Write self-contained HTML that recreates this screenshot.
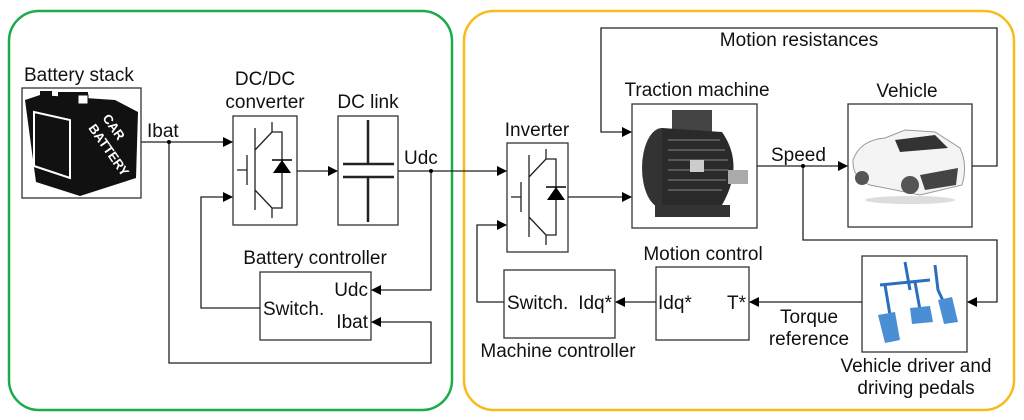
<!DOCTYPE html>
<html><head><meta charset="utf-8"><style>
html,body{margin:0;padding:0;background:#fff}
svg{display:block}
text{font-family:"Liberation Sans",Arial,sans-serif;font-size:19px;fill:#111}
</style></head><body>
<svg width="1024" height="420" viewBox="0 0 1024 420" xmlns="http://www.w3.org/2000/svg">
<defs>
<marker id="a" markerWidth="10" markerHeight="10" refX="9" refY="5" orient="auto" markerUnits="userSpaceOnUse">
<path d="M0,0 L10,5 L0,10 z" fill="#000"/></marker>
</defs>
<rect x="9" y="11" width="443" height="399" rx="30" fill="none" stroke="#1aab4b" stroke-width="2.5"/>
<rect x="464" y="11" width="550" height="399" rx="30" fill="none" stroke="#f6bc1a" stroke-width="2.5"/>

<g fill="none" stroke="#333" stroke-width="1.3">
<rect x="22" y="88" width="119" height="110"/>
<rect x="233" y="116" width="64" height="109"/>
<rect x="338" y="116" width="60" height="109"/>
<rect x="260" y="272" width="111" height="68"/>
<rect x="507" y="143" width="61" height="109"/>
<rect x="632" y="104" width="125" height="124"/>
<rect x="848" y="104" width="124" height="123"/>
<rect x="862" y="256" width="105" height="96"/>
<rect x="656" y="267" width="93" height="73"/>
<rect x="504" y="270" width="111" height="68"/>
</g>

<g fill="none" stroke="#222" stroke-width="1.3">
<path d="M141,142 H232" marker-end="url(#a)"/>
<path d="M297,171 H337" marker-end="url(#a)"/>
<path d="M398,171 H506" marker-end="url(#a)"/>
<path d="M431,171 V290 H372" marker-end="url(#a)"/>
<path d="M169,142 V363 H431 V322 H372" marker-end="url(#a)"/>
<path d="M260,308 H201 V197 H232" marker-end="url(#a)"/>
<path d="M568,197 H631" marker-end="url(#a)"/>
<path d="M757,166 H847" marker-end="url(#a)"/>
<path d="M972,166 H997 V28 H601 V132 H631" marker-end="url(#a)"/>
<path d="M803,166 V240 H997 V302 H968" marker-end="url(#a)"/>
<path d="M862,302 H750" marker-end="url(#a)"/>
<path d="M656,302 H616" marker-end="url(#a)"/>
<path d="M504,302 H477 V225 H506" marker-end="url(#a)"/>
</g>
<circle cx="169" cy="142" r="2" fill="#000"/>
<circle cx="431" cy="171" r="2" fill="#000"/>
<circle cx="803" cy="166" r="2" fill="#000"/>

<g fill="none" stroke="#222" stroke-width="1.3">
<path d="M272,122 V132 H282 V208 H272 V218"/>
<path d="M255,128 V210 M247,155 V185 M237,170 H247 M255,150 L272,132 M255,190 L272,208"/>
<path d="M546,149 V159 H556 V235 H546 V245"/>
<path d="M529,155 V237 M521,182 V212 M511,197 H521 M529,177 L546,159 M529,217 L546,235"/>
<path d="M343,164 H394 M343,177 H394 M368,120 V164 M368,177 V222" stroke-width="2.5"/>
</g>
<path d="M273,173 L291,173 L282,160 z" fill="#000"/>
<path d="M547,200 L565,200 L556,187 z" fill="#000"/>
<path d="M272,160 H292 M546,187 H566" stroke="#000" stroke-width="1.5"/>

<!-- battery -->
<g>
<path d="M25,100 L40,95 L115,100 L138,112 L136,178 L80,196 L36,182 z" fill="#111"/>
<rect x="40" y="91" width="12" height="9" fill="#111"/><rect x="58" y="92" width="30" height="6" fill="#111"/><rect x="78" y="95" width="10" height="9" fill="#fff" stroke="#111"/>
<path d="M34,112 L70,120 L70,178 L34,166 z" fill="none" stroke="#fff" stroke-width="2"/>
<text x="0" y="0" transform="translate(102,118) rotate(55)" style="fill:#fff;font-weight:bold;font-size:13px">CAR</text>
<text x="0" y="0" transform="translate(88,128) rotate(55)" style="fill:#fff;font-weight:bold;font-size:13px">BATTERY</text>
</g>
<!-- motor -->
<g>
<rect x="672" y="110" width="40" height="22" fill="#444"/>
<ellipse cx="662" cy="168" rx="20" ry="40" fill="#333"/>
<path d="M662,128 L722,132 Q745,165 722,205 L662,208 z" fill="#2a2a2a"/>
<g stroke="#666" stroke-width="1.5"><path d="M668,140 H720 M668,150 H725 M668,160 H728 M668,170 H728 M668,180 H726 M668,190 H722"/></g>
<rect x="728" y="170" width="20" height="14" fill="#aaa"/>
<rect x="655" y="205" width="75" height="12" fill="#333"/>
<rect x="690" y="160" width="14" height="12" fill="#ccc"/>
</g>
<!-- car -->
<g>
<path d="M853,160 Q860,140 885,138 L905,130 L935,132 L960,148 Q968,165 962,185 L920,195 L870,185 Q852,178 853,160 z" fill="#f4f4f4" stroke="#999"/>
<path d="M895,140 L935,135 L948,148 L900,152 z" fill="#333"/>
<circle cx="862" cy="178" r="7" fill="#555"/><circle cx="910" cy="185" r="9" fill="#555"/>
<path d="M920,175 L958,168 L956,185 L925,190 z" fill="#444"/>
<ellipse cx="910" cy="200" rx="45" ry="4" fill="#ddd"/>
</g>
<!-- pedals -->
<g stroke="#2a6fbe" stroke-width="3" fill="none">
<path d="M905,262 L910,290 M880,285 L930,280 M885,285 L890,315 M915,282 L920,310 M935,265 L938,290 L945,305"/>
</g>
<g fill="#4a8fd6"><path d="M878,315 L895,312 L900,340 L885,343 z"/><path d="M910,308 L930,306 L933,322 L912,324 z"/><path d="M938,300 L952,297 L958,322 L944,324 z"/></g>

<text x="24" y="81">Battery stack</text>
<text x="147" y="137">Ibat</text>
<text x="265" y="85" text-anchor="middle">DC/DC</text>
<text x="265" y="108" text-anchor="middle">converter</text>
<text x="368" y="108" text-anchor="middle">DC link</text>
<text x="404" y="164">Udc</text>
<text x="315" y="264" text-anchor="middle">Battery controller</text>
<text x="368" y="296" text-anchor="end">Udc</text>
<text x="263" y="315">Switch.</text>
<text x="368" y="328" text-anchor="end">Ibat</text>
<text x="537" y="136" text-anchor="middle">Inverter</text>
<text x="697" y="96" text-anchor="middle">Traction machine</text>
<text x="799" y="46" text-anchor="middle">Motion resistances</text>
<text x="907" y="97" text-anchor="middle">Vehicle</text>
<text x="771" y="161">Speed</text>
<text x="703" y="260" text-anchor="middle">Motion control</text>
<text x="658" y="309">Idq*</text>
<text x="746" y="309" text-anchor="end">T*</text>
<text x="507" y="309">Switch.</text>
<text x="612" y="309" text-anchor="end">Idq*</text>
<text x="558" y="357" text-anchor="middle">Machine controller</text>
<text x="809" y="323" text-anchor="middle">Torque</text>
<text x="809" y="345" text-anchor="middle">reference</text>
<text x="916" y="372" text-anchor="middle">Vehicle driver and</text>
<text x="916" y="394" text-anchor="middle">driving pedals</text>
</svg>
</body></html>
